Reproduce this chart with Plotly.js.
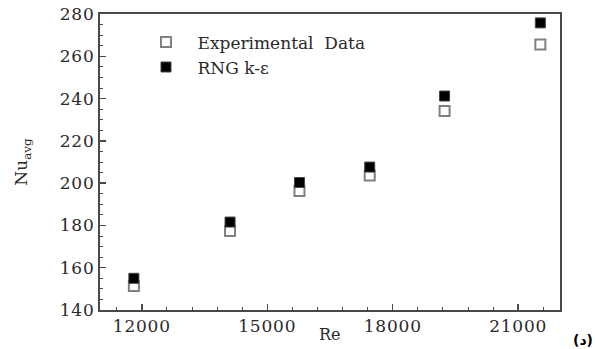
<!DOCTYPE html>
<html>
<head>
<meta charset="utf-8">
<script src="https://cdn.plot.ly/plotly-3.0.1.min.js"></script>
<style>
  html, body { margin: 0; padding: 0; background: #fff; }
  #chart { width: 595px; height: 349px; }
  #chart .xtick text, #chart .ytick text { letter-spacing: 0.8px; }
</style>
</head>
<body>
<div id="chart"></div>
<script>
// Reynolds numbers of the test cases
const reynolds = [11810, 14110, 15770, 17450, 19240, 21530];
// Average Nusselt number: measurements and RNG k-ε predictions
const nuExperimental = [151.4, 177.4, 196.3, 203.6, 234.1, 265.6];
const nuRngKEps = [155.0, 181.6, 200.3, 207.6, 241.2, 275.8];
// Axis tick values
const xTicks = [12000, 15000, 18000, 21000];
const yTicks = [140, 160, 180, 200, 220, 240, 260, 280];

const serif = 'DejaVu Serif, Liberation Serif, serif';
const axisColor = '#4a4a4a';
const textColor = '#2a2a2a';

const traces = [
  {
    x: reynolds, y: nuExperimental,
    name: 'Experimental  Data',
    type: 'scatter', mode: 'markers',
    marker: { symbol: 'square', size: 10, color: '#ffffff',
              line: { color: '#808080', width: 2 } }
  },
  {
    x: reynolds, y: nuRngKEps,
    name: 'RNG k-ε',
    type: 'scatter', mode: 'markers',
    marker: { symbol: 'square', size: 10, color: '#000000',
              line: { color: '#444444', width: 1 } }
  }
];

const layout = {
  width: 595, height: 349,
  margin: { l: 100, r: 35, t: 14, b: 39 },
  paper_bgcolor: '#ffffff', plot_bgcolor: '#ffffff',
  font: { family: serif, size: 16, color: textColor },
  showlegend: true,
  legend: {
    x: 0.075, y: 0.965, xanchor: 'left', yanchor: 'top',
    bgcolor: 'rgba(0,0,0,0)', borderwidth: 0,
    itemwidth: 53,
    font: { family: serif, size: 17, color: textColor },
    tracegroupgap: 0
  },
  xaxis: {
    range: [11000, 22000],
    tickmode: 'array', tickvals: xTicks, ticktext: xTicks.map(String),
    ticks: 'inside', ticklen: 6, tickwidth: 1.5, tickcolor: axisColor,
    minor: { ticks: 'inside', tick0: 12000, dtick: 600, ticklen: 3, tickwidth: 1, tickcolor: axisColor },
    showline: true, linecolor: axisColor, linewidth: 2, mirror: true,
    showgrid: false, zeroline: false,
    tickfont: { family: serif, size: 17, color: textColor }
  },
  yaxis: {
    range: [140, 280],
    tickmode: 'array', tickvals: yTicks, ticktext: yTicks.map(String),
    ticks: 'inside', ticklen: 6, tickwidth: 1.5, tickcolor: axisColor,
    minor: { ticks: 'inside', tick0: 140, dtick: 5, ticklen: 3, tickwidth: 1, tickcolor: axisColor },
    showline: true, linecolor: axisColor, linewidth: 2, mirror: true,
    showgrid: false, zeroline: false,
    tickfont: { family: serif, size: 17, color: textColor },
    title: { text: 'Nu<sub>avg</sub>', font: { family: serif, size: 17, color: textColor }, standoff: 30 }
  },
  annotations: [
    {
      // x-axis title, set close under the tick labels
      text: 'Re', xref: 'paper', yref: 'paper',
      x: 0.5, y: 0, yshift: -24,
      xanchor: 'center', yanchor: 'middle', showarrow: false,
      font: { family: serif, size: 16, color: textColor }
    },
    {
      text: '(د)', xref: 'paper', yref: 'paper',
      x: 1.0, y: -0.0, xshift: 35, yshift: -30,
      xanchor: 'right', yanchor: 'middle', showarrow: false,
      font: { family: 'DejaVu Sans, sans-serif', size: 14, color: '#000000', weight: 'bold' }
    }
  ]
};

Plotly.newPlot('chart', traces, layout, { staticPlot: true, displayModeBar: false });
</script>
</body>
</html>
